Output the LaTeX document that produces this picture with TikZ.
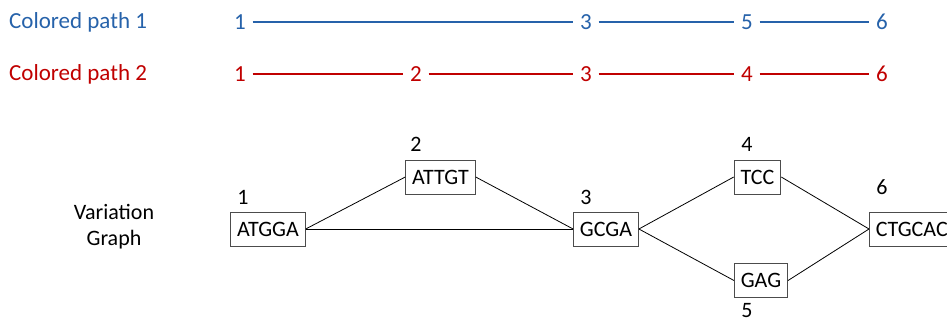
\documentclass[tikz,border=0pt]{standalone}
\usepackage{fontspec}
\setmainfont{Carlito}
\usepackage{xcolor}
\usetikzlibrary{positioning}

\definecolor{pathblue}{RGB}{38,98,170}
\definecolor{pathred}{RGB}{192,0,0}

\tikzset{
  seq/.style={draw=black!70, line width=0.8pt, minimum height=34pt, inner xsep=6.5pt, inner ysep=0pt},
  num/.style={inner xsep=6.5pt, inner ysep=0pt},
  track/.style={line width=1.6pt},
  link/.style={line width=0.8pt},
}

\begin{document}
\begin{tikzpicture}[x=1pt,y=-1pt,font=\fontsize{22}{26}\selectfont]
        \useasboundingbox (0,0) rectangle (947,320);

        % Colored path 1
        \begin{scope}[pathblue, font=\fontsize{23}{27}\selectfont]
            \node[anchor=west, inner sep=0pt] (title1) at (9,22) {Colored path 1};
            \node[num] (a1) at (240,22) {1};
            \node[num] (a3) at (586,22) {3};
            \node[num] (a5) at (747,22) {5};
            \node[num] (a6) at (882,22) {6};
            \draw[track] (a1) -- (a3);
            \draw[track] (a3) -- (a5);
            \draw[track] (a5) -- (a6);
        \end{scope}

        % Colored path 2
        \begin{scope}[pathred, font=\fontsize{23}{27}\selectfont]
            \node[anchor=west, inner sep=0pt] (title2) at (9,74) {Colored path 2};
            \node[num] (b1) at (240,74) {1};
            \node[num] (b2) at (416,74) {2};
            \node[num] (b3) at (586,74) {3};
            \node[num] (b4) at (747,74) {4};
            \node[num] (b6) at (882,74) {6};
            \draw[track] (b1) -- (b2);
            \draw[track] (b2) -- (b3);
            \draw[track] (b3) -- (b4);
            \draw[track] (b4) -- (b6);
        \end{scope}

        % Variation graph
        \node[align=center] (vg) at (114,227) {Variation\\Graph};

        \node[seq] (atgga) at (268,229) {ATGGA};
        \node[seq] (attgt) at (440.5,177) {ATTGT};
        \node[seq] (gcga) at (606,229) {GCGA};
        \node[seq] (tcc) at (757.5,177) {TCC};
        \node[seq] (gag) at (761,280.5) {GAG};
        \node[seq, anchor=west] (ctgcac) at (869,229) {CTGCAC};

        \node (n1) at (243,197) {1};
        \node (n2) at (416,144) {2};
        \node (n3) at (586,197) {3};
        \node (n4) at (747,144) {4};
        \node (n5) at (747,311) {5};
        \node (n6) at (882,187) {6};

        \draw[link] (atgga.east) -- (attgt.west);
        \draw[link] (atgga.east) -- (gcga.west);
        \draw[link] (attgt.east) -- (gcga.west);
        \draw[link] (gcga.east) -- (tcc.west);
        \draw[link] (gcga.east) -- (gag.west);
        \draw[link] (tcc.east) -- (ctgcac.west);
        \draw[link] (gag.east) -- (ctgcac.west);
\end{tikzpicture}
\end{document}
